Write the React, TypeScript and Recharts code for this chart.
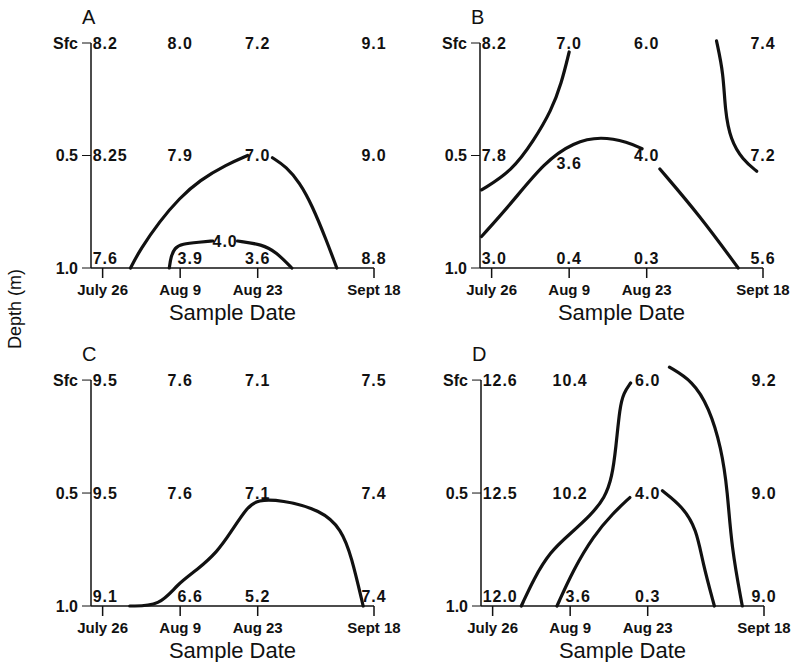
import React from "react";
import {
  ComposedChart,
  ReferenceLine,
  Scatter,
  XAxis,
  YAxis,
} from "recharts";

// sample dates (position in "interval" units, Sept 18 sits 1.5 intervals out)
const dateLabels = ["July 26", "Aug 9", "Aug 23", "Sept 18"];
const datePos = [0, 1, 2, 3.5];
const depthPos = [0, 0.5, 1];
const depthLabels = ["Sfc", "0.5", "1.0"];

// measured values, rows = depth (Sfc, 0.5, 1.0), cols = date
const valuesA = [
  ["8.2", "8.0", "7.2", "9.1"],
  ["8.25", "7.9", "7.0", "9.0"],
  ["7.6", "3.9", "3.6", "8.8"],
];
const valuesB = [
  ["8.2", "7.0", "6.0", "7.4"],
  ["7.8", "3.6", "4.0", "7.2"],
  ["3.0", "0.4", "0.3", "5.6"],
];
const valuesC = [
  ["9.5", "7.6", "7.1", "7.5"],
  ["9.5", "7.6", "7.1", "7.4"],
  ["9.1", "6.6", "5.2", "7.4"],
];
const valuesD = [
  ["12.6", "10.4", "6.0", "9.2"],
  ["12.5", "10.2", "4.0", "9.0"],
  ["12.0", "3.6", "0.3", "9.0"],
];

// contour lines as [date, depth] pairs
const contourA70Left = [[0.36, 1.0], [0.48, 0.92], [0.74, 0.79], [0.99, 0.69], [1.25, 0.61], [1.6, 0.54], [1.87, 0.5]];
const contourA70Right = [[2.19, 0.51], [2.37, 0.55], [2.54, 0.62], [2.7, 0.72], [2.89, 0.88], [3.02, 1.0]];
const contourA40Left = [[0.86, 1.0], [0.88, 0.95], [0.93, 0.91], [1.02, 0.893], [1.25, 0.885], [1.42, 0.88]];
const contourA40Right = [[1.74, 0.88], [2.06, 0.895], [2.24, 0.93], [2.44, 1.0]];

const contourB70 = [[-0.13, 0.653], [0.26, 0.57], [0.55, 0.43], [0.77, 0.3], [0.9, 0.18], [1.0, 0.04]];
const contourB40Left = [[-0.13, 0.86], [0.26, 0.71], [0.68, 0.53], [1.06, 0.44], [1.41, 0.415], [1.76, 0.44], [1.94, 0.47]];
const contourB40Right = [[2.17, 0.56], [2.69, 0.77], [3.18, 1.0]];
const contourB74 = [[2.9, -0.01], [2.99, 0.135], [3.01, 0.3], [3.08, 0.43], [3.24, 0.52], [3.42, 0.57]];

const contourC70 = [[0.35, 1.0], [0.74, 1.0], [0.96, 0.904], [1.22, 0.84], [1.48, 0.76], [1.65, 0.675], [1.87, 0.56], [2.0, 0.53], [2.3, 0.53], [2.82, 0.575], [3.08, 0.66], [3.21, 0.78], [3.36, 1.0]];

const contourD60Left = [[0.37, 1.0], [0.53, 0.88], [0.74, 0.76], [1.0, 0.68], [1.26, 0.6], [1.45, 0.52], [1.54, 0.43], [1.59, 0.3], [1.64, 0.12], [1.69, 0.057], [1.78, 0.013]];
const contourD60Right = [[2.28, -0.057], [2.58, 0.004], [2.79, 0.12], [2.95, 0.3], [3.03, 0.49], [3.08, 0.74], [3.22, 1.0]];
const contourD40Left = [[0.83, 1.0], [1.04, 0.84], [1.3, 0.69], [1.55, 0.59], [1.77, 0.52]];
const contourD40Right = [[2.19, 0.49], [2.45, 0.56], [2.63, 0.66], [2.71, 0.81], [2.86, 1.0]];

// in-line contour labels
const contourLabelsA = [{ x: 1.58, y: 0.88, v: "4.0" }];

type Panel = {
  letter: string;
  left: number;
  top: number;
  height: number;
  marginTop: number;
  marginBottom: number;
  values: string[][];
  contours: number[][][];
  labels: { x: number; y: number; v: string }[];
  // pixel nudges for value labels that dodge a contour, key "row-col"
  nudges: Record<string, [number, number]>;
};

const panels: Panel[] = [
  { letter: "A", left: 0, top: 0, height: 330, marginTop: 25, marginBottom: 12, values: valuesA, contours: [contourA70Left, contourA70Right, contourA40Left, contourA40Right], labels: contourLabelsA, nudges: { "2-1": [10, 0] } },
  { letter: "B", left: 389, top: 0, height: 330, marginTop: 25, marginBottom: 12, values: valuesB, contours: [contourB70, contourB40Left, contourB40Right, contourB74], labels: [], nudges: { "1-1": [0, 8] } },
  { letter: "C", left: 0, top: 330, height: 332, marginTop: 32, marginBottom: 6, values: valuesC, contours: [contourC70], labels: [], nudges: { "2-1": [10, 0] } },
  { letter: "D", left: 390, top: 330, height: 332, marginTop: 32, marginBottom: 6, values: valuesD, contours: [contourD60Left, contourD60Right, contourD40Left, contourD40Right], labels: [], nudges: { "2-1": [8, 0] } },
];

const INK = "#111";

function ValueText(props: any) {
  const { cx, cy, payload } = props;
  const first = payload.x === 0;
  const bottom = payload.y === 1;
  const [nx, ny] = payload.nudge || [0, 0];
  return (
    <text
      x={(first ? cx - 10 : cx) + nx}
      y={(bottom ? cy - 10 : cy) + ny}
      textAnchor={first ? "start" : "middle"}
      dominantBaseline="central"
      fontSize={16}
      fontWeight="bold"
      letterSpacing={1}
      fill={INK}
    >
      {payload.v}
    </text>
  );
}

function LabelText(props: any) {
  const { cx, cy, payload } = props;
  return (
    <text x={cx} y={cy} textAnchor="middle" dominantBaseline="central" fontSize={16} fontWeight="bold" letterSpacing={1} fill={INK}>
      {payload.v}
    </text>
  );
}

function ContourPanel({ p }: { p: Panel }) {
  const grid = p.values.flatMap((row, r) =>
    row.map((v, c) => ({ x: datePos[c], y: depthPos[r], v, nudge: p.nudges[`${r}-${c}`] })),
  );
  return (
    <div style={{ position: "absolute", left: p.left, top: p.top }}>
      <ComposedChart
        width={405}
        height={p.height}
        margin={{ top: p.marginTop, right: 31, bottom: p.marginBottom, left: 31 }}
      >
        <XAxis
          type="number"
          dataKey="x"
          domain={[-0.15, 3.5]}
          ticks={datePos}
          tickFormatter={(v: number) => dateLabels[datePos.indexOf(v)]}
          height={50}
          tickSize={10}
          tickMargin={6}
          stroke={INK}
          strokeWidth={1.5}
          tick={{ fill: INK, fontSize: 15, fontWeight: "bold" }}
          label={{ value: "Sample Date", position: "insideBottom", offset: -2, fontSize: 22, fill: INK }}
        />
        <YAxis
          type="number"
          dataKey="y"
          domain={[-0.08, 1]}
          reversed
          ticks={depthPos}
          tickFormatter={(v: number) => depthLabels[depthPos.indexOf(v)]}
          width={60}
          axisLine={false}
          tickSize={9}
          tickMargin={4}
          stroke={INK}
          tick={{ fill: INK, fontSize: 16, fontWeight: "bold" }}
        />
        <ReferenceLine
          segment={[{ x: -0.15, y: 0 }, { x: -0.15, y: 1 }]}
          stroke={INK}
          strokeWidth={1.5}
        />
        {p.contours.map((pts, i) => (
          <Scatter
            key={i}
            data={pts.map(([x, y]) => ({ x, y }))}
            line={{ stroke: INK, strokeWidth: 3.2, strokeLinecap: "round" }}
            lineJointType="basis"
            shape={() => <g />}
            isAnimationActive={false}
          />
        ))}
        <Scatter data={grid} shape={ValueText} isAnimationActive={false} />
        <Scatter data={p.labels} shape={LabelText} isAnimationActive={false} />
      </ComposedChart>
      <div
        style={{
          position: "absolute",
          left: 82,
          top: p.top === 0 ? 6 : 13,
          fontSize: 20,
          color: INK,
        }}
      >
        {p.letter}
      </div>
    </div>
  );
}

export default function App() {
  return (
    <div
      style={{
        position: "absolute",
        left: 0,
        top: 0,
        width: 794,
        height: 662,
        background: "#fff",
        fontFamily: "'Liberation Sans', Arial, sans-serif",
      }}
    >
      {panels.map((p) => (
        <ContourPanel key={p.letter} p={p} />
      ))}
      <div
        style={{
          position: "absolute",
          left: 15,
          top: 309,
          transform: "translate(-50%, -50%) rotate(-90deg)",
          fontSize: 18,
          color: INK,
          whiteSpace: "nowrap",
        }}
      >
        Depth (m)
      </div>
    </div>
  );
}
